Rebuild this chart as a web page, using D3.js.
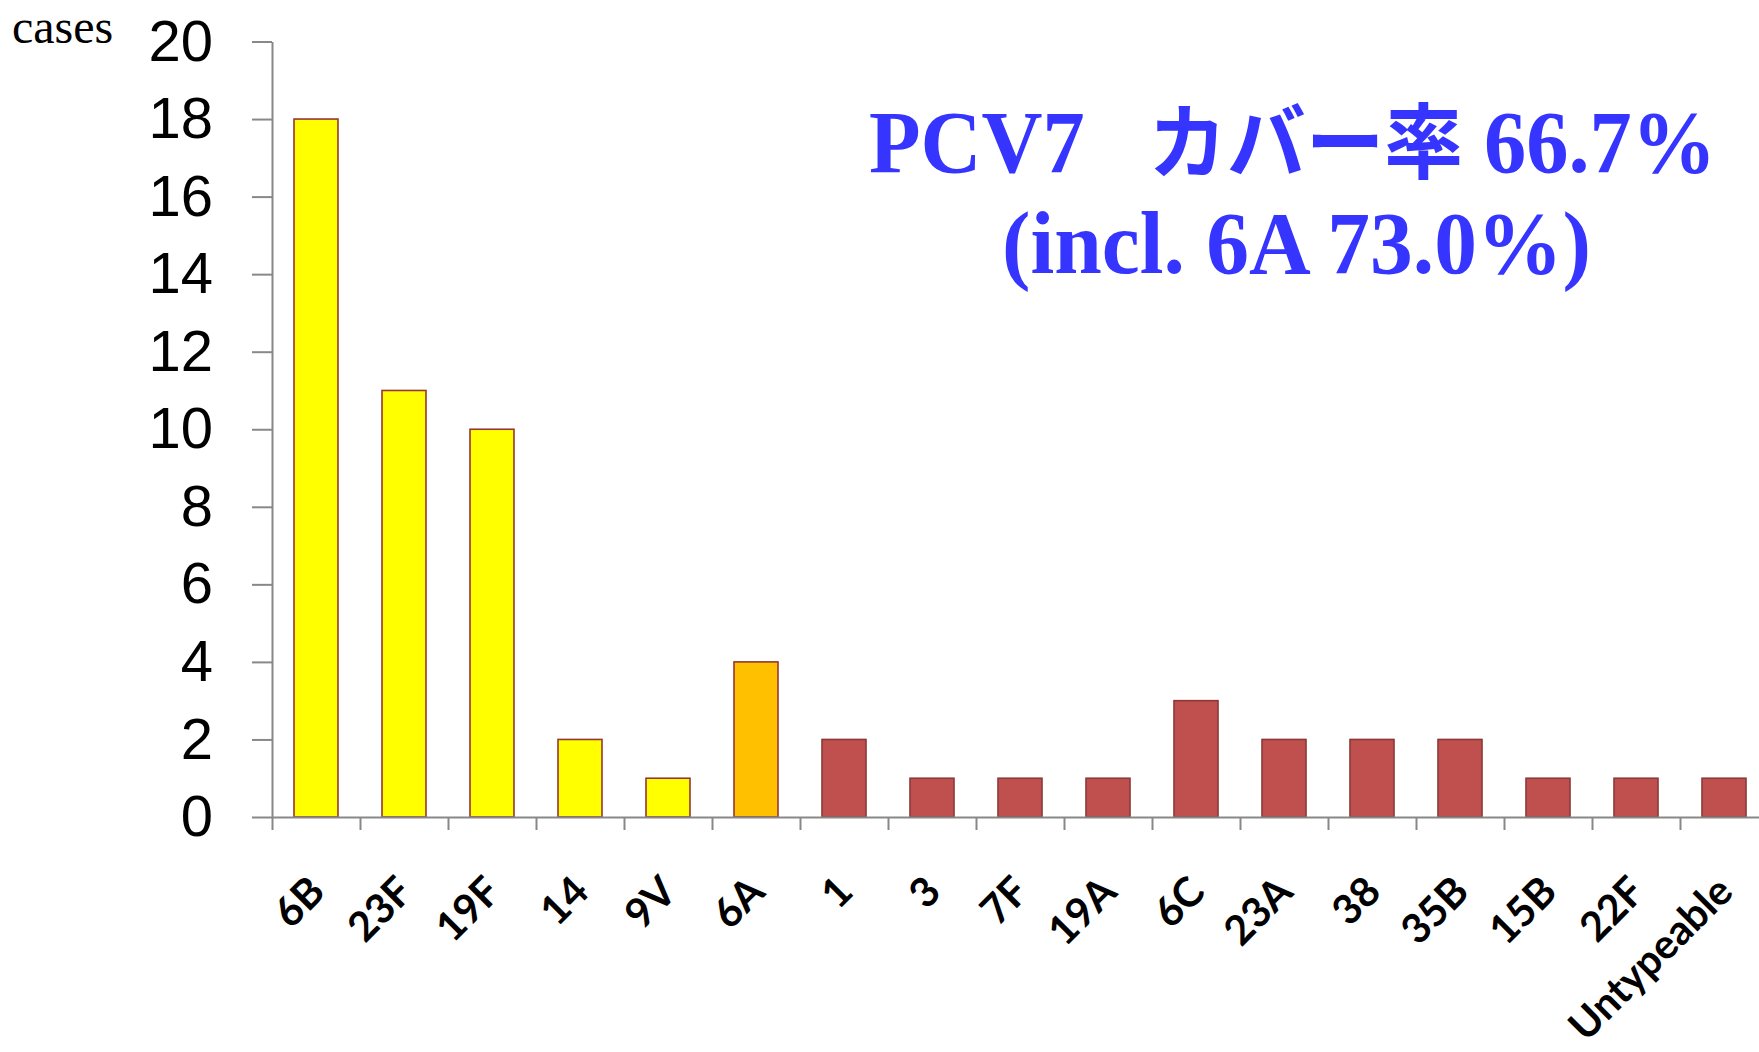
<!DOCTYPE html>
<html>
<head>
<meta charset="utf-8">
<script src="https://cdn.jsdelivr.net/npm/d3@7"></script>
<style>
  html, body { margin: 0; padding: 0; background: #fff; }
  svg { display: block; }
</style>
</head>
<body>
<svg id="chart" width="1759" height="1052"></svg>
<script>
// Serotype distribution (cases)
const serotypes = ["6B", "23F", "19F", "14", "9V", "6A", "1", "3", "7F", "19A", "6C", "23A", "38", "35B", "15B", "22F", "Untypeable"];
const cases     = [18, 11, 10, 2, 1, 4, 2, 1, 1, 1, 3, 2, 2, 2, 1, 1, 1];
// Vaccine group of each serotype: PCV7 types, cross-covered 6A, others
const groups    = ["pcv7", "pcv7", "pcv7", "pcv7", "pcv7", "cross", "other", "other", "other", "other", "other", "other", "other", "other", "other", "other", "other"];
const yTicks    = [0, 2, 4, 6, 8, 10, 12, 14, 16, 18, 20];
const titleLine1 = ["PCV7", "\u3000", "カバー率", " 66.7%"];
const titleLine2 = "(incl. 6A 73.0%)";
const yLabel = "cases";

const fills   = { pcv7: "#FFFF00", cross: "#FFC000", other: "#C0504D" };
const strokes = { pcv7: "#953735", cross: "#953735", other: "#8C3836" };

const svg = d3.select("#chart");
const plotLeft = 272, plotRight = 1768, plotTop = 41.5, plotBottom = 817;
const axisColor = "#888888";

const x = d3.scaleBand().domain(serotypes).range([plotLeft, plotRight]).paddingInner(0.5).paddingOuter(0.25);
const xb = d3.scaleLinear().domain([0, serotypes.length]).range([plotLeft, plotRight]);
const y = d3.scaleLinear().domain([0, 20]).range([plotBottom, plotTop]);

// Bars
const rows = serotypes.map((s, i) => ({ s, v: cases[i], g: groups[i] }));
svg.append("g").selectAll("rect").data(rows).join("rect")
  .attr("x", d => x(d.s))
  .attr("width", x.bandwidth())
  .attr("y", d => y(d.v))
  .attr("height", d => y(0) - y(d.v))
  .attr("fill", d => fills[d.g])
  .attr("stroke", d => strokes[d.g])
  .attr("stroke-width", 1.6);

// Y axis
const yAxis = svg.append("g")
  .attr("transform", `translate(${plotLeft},0)`)
  .call(d3.axisLeft(y).tickValues(yTicks).tickSize(20).tickSizeOuter(0).tickPadding(39));
yAxis.selectAll("path, line").attr("stroke", axisColor).attr("stroke-width", 2);
yAxis.selectAll("text")
  .attr("font-family", "'Liberation Sans', Arial, sans-serif")
  .attr("font-size", 58)
  .attr("fill", "#000");

// X axis: boundary ticks between categories
const xTickAxis = svg.append("g")
  .attr("transform", `translate(0,${plotBottom})`)
  .call(d3.axisBottom(xb).tickValues(d3.range(serotypes.length + 1)).tickSize(13).tickSizeOuter(0).tickFormat(""));
xTickAxis.selectAll("path, line").attr("stroke", axisColor).attr("stroke-width", 2);

// X axis: rotated category labels
const xLabelAxis = svg.append("g")
  .attr("transform", `translate(0,${plotBottom})`)
  .call(d3.axisBottom(x).tickSize(0).tickSizeOuter(0));
xLabelAxis.select(".domain").remove();
xLabelAxis.selectAll("text")
  .attr("x", 0).attr("y", 0).attr("dy", 0)
  .attr("text-anchor", "end")
  .attr("transform", "translate(11,77) rotate(-45)")
  .attr("font-family", "Lato, 'Open Sans', sans-serif")
  .attr("font-weight", 700)
  .attr("font-size", 41)
  .attr("fill", "#000");

// Unit label
svg.append("text")
  .attr("x", 12).attr("y", 43)
  .attr("font-family", "'Liberation Serif', 'Times New Roman', serif")
  .attr("font-size", 48)
  .attr("fill", "#000")
  .text(yLabel);

// Coverage title
const titleColor = "#3535FF";
function fitLine(sel, x0, baseline, width) {
  const w = sel.node().getComputedTextLength();
  sel.attr("transform", `translate(${x0},${baseline}) scale(${width / w},1)`);
}
const t1 = svg.append("text")
  .attr("x", 0).attr("y", 0)
  .attr("font-family", "'Liberation Serif', 'Times New Roman', serif")
  .attr("font-weight", 700)
  .attr("font-size", 88)
  .attr("fill", titleColor);
const partSizes = [88, 66, 82, 88];
titleLine1.forEach((part, i) => {
  t1.append("tspan")
    .attr("font-family", i === 2 ? "'Noto Sans CJK JP', sans-serif" : null)
    .attr("font-size", partSizes[i])
    .text(part);
});
fitLine(t1, 869, 172, 847);

const t2 = svg.append("text")
  .attr("x", 0).attr("y", 0)
  .attr("font-family", "'Liberation Serif', 'Times New Roman', serif")
  .attr("font-weight", 700)
  .attr("font-size", 88)
  .attr("fill", titleColor)
  .text(titleLine2);
fitLine(t2, 1002, 273, 589);
</script>
</body>
</html>
